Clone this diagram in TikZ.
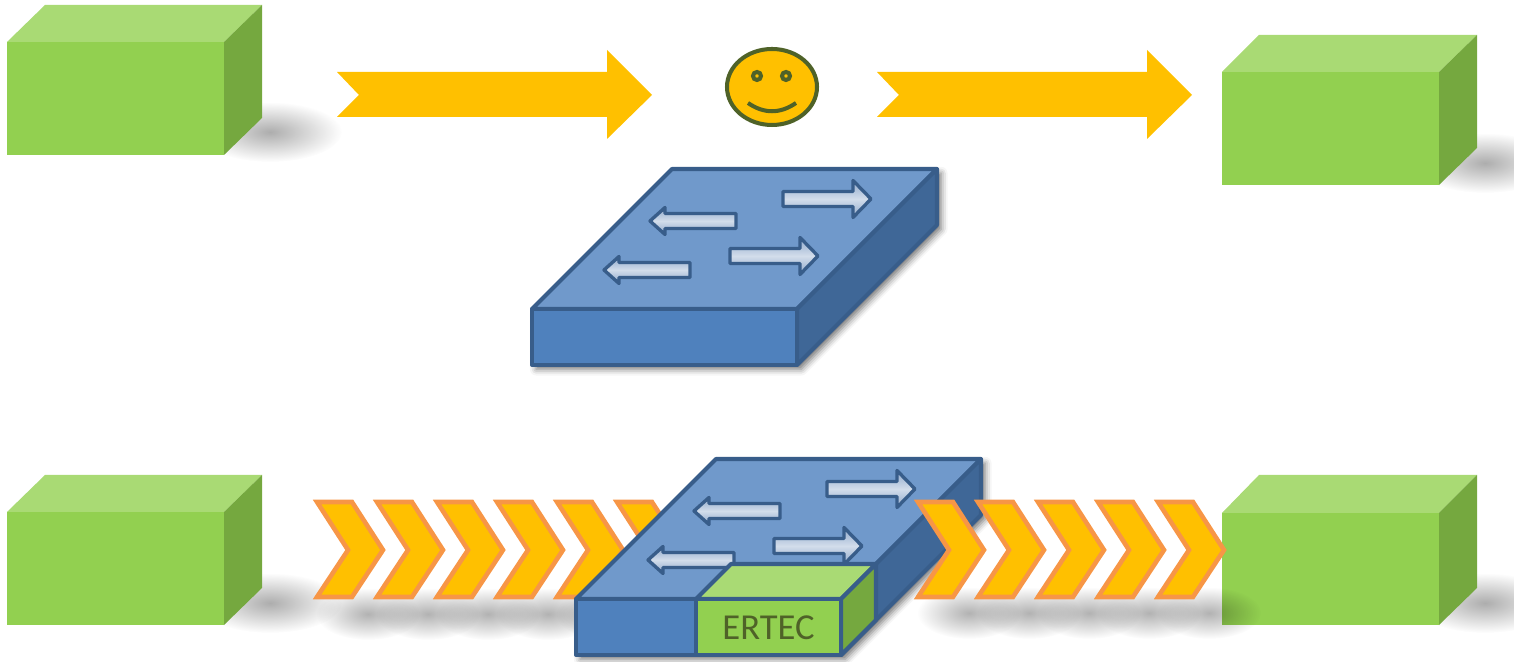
\documentclass[tikz,border=0pt]{standalone}
\usepackage{fontspec}
\setsansfont{Carlito}
\usetikzlibrary{fadings,shadows.blur}

\definecolor{gfrontcol}{HTML}{92D050}
\definecolor{gtopcol}{HTML}{A9DA74}
\definecolor{gsidecol}{HTML}{75A83F}
\definecolor{swfrontcol}{HTML}{4F81BD}
\definecolor{swtopcol}{HTML}{7099CB}
\definecolor{swsidecol}{HTML}{3F6797}
\definecolor{swlinecol}{HTML}{385D8A}
\definecolor{portcol}{HTML}{8FA9CC}
\definecolor{flowcol}{HTML}{FFC000}
\definecolor{chevlinecol}{HTML}{F79646}
\definecolor{facecol}{HTML}{4F6228}

\tikzfading[name=softblob, inner color=transparent!0, outer color=transparent!100]

\tikzset{
  gfront/.style={fill=gfrontcol},
  gtop/.style={fill=gtopcol},
  gside/.style={fill=gsidecol},
  swline/.style={draw=swlinecol, line width=1.15pt, line join=round},
  swfront/.style={swline, fill=swfrontcol},
  swtop/.style={swline, fill=swtopcol},
  swside/.style={swline, fill=swsidecol},
  swshadow/.style={blur shadow={shadow xshift=1.2pt, shadow yshift=-1.2pt, shadow blur radius=1.8pt, shadow opacity=55}},
  portarrow/.style={draw=swlinecol, line width=0.95pt, line join=round,
    top color=portcol, bottom color=portcol, middle color=white!60!portcol},
  flowarrow/.style={fill=flowcol},
  chevron/.style={fill=flowcol, draw=chevlinecol, line width=1.3pt},
  blob/.style={fill=black, fill opacity=#1, path fading=softblob},
  blob/.default=0.32,
  smiley/.style={draw=facecol, line width=1.15pt}
}

\begin{document}
\begin{tikzpicture}[x=0.01cm, y=-0.01cm]
\useasboundingbox (0,0) rectangle (1514,662);

\fill [blob] (270,132) ellipse [x radius=72, y radius=30];
\fill [blob] (1485,163) ellipse [x radius=72, y radius=30];
\fill [blob] (270,603) ellipse [x radius=72, y radius=30];
\fill [blob] (1485,603) ellipse [x radius=72, y radius=30];

\fill [gfront] (7,42) rectangle (224,155);
\fill [gtop] (7,42) -- (45,5) -- (262,5) -- (224,42) -- cycle;
\fill [gside] (224,42) -- (262,5) -- (262,118) -- (224,155) -- cycle;

\fill [gfront] (1222,72) rectangle (1439,185);
\fill [gtop] (1222,72) -- (1259,35) -- (1477,35) -- (1439,72) -- cycle;
\fill [gside] (1439,72) -- (1477,35) -- (1477,148) -- (1439,185) -- cycle;

\fill [gfront] (7,512) rectangle (224,625);
\fill [gtop] (7,512) -- (45,475) -- (262,475) -- (224,512) -- cycle;
\fill [gside] (224,512) -- (262,475) -- (262,588) -- (224,625) -- cycle;

\fill [gfront] (1222,513) rectangle (1439,625);
\fill [gtop] (1222,513) -- (1259,475) -- (1477,475) -- (1439,513) -- cycle;
\fill [gside] (1439,513) -- (1477,475) -- (1477,588) -- (1439,625) -- cycle;

\fill [flowarrow] (337,72) -- (607,72) -- (607,50) -- (652,95) -- (607,139) -- (607,117) -- (337,117) -- (359,95) -- cycle;
\fill [flowarrow, shift={(540,0)}] (337,72) -- (607,72) -- (607,50) -- (652,95) -- (607,139) -- (607,117) -- (337,117) -- (359,95) -- cycle;

\draw [smiley, fill=flowcol] (772,87) ellipse [x radius=45, y radius=38];
\draw [smiley] (757,76) circle [radius=4];
\draw [smiley] (786,76) circle [radius=4];
\draw [smiley] (748,103) .. controls (764,114) and (780,114) .. (796,103);

\path [swshadow] (532,309) -- (672,169) -- (937,169) -- (937,225) -- (797,365) -- (532,365) -- cycle;
\draw [swtop] (532,309) -- (672,169) -- (937,169) -- (797,309) -- cycle;
\draw [swside] (797,309) -- (937,169) -- (937,225) -- (797,365) -- cycle;
\draw [swfront] (532,309) rectangle (797,365);
\draw [portarrow, shift={(650,221)}, xscale=-1] (0,0) -- (-15,-13.5) -- (-15,-7.5) -- (-86,-7.5) -- (-86,7.5) -- (-15,7.5) -- (-15,13.5) -- cycle;
\draw [portarrow, shift={(604,270)}, xscale=-1] (0,0) -- (-15,-13.5) -- (-15,-7.5) -- (-86,-7.5) -- (-86,7.5) -- (-15,7.5) -- (-15,13.5) -- cycle;
\draw [portarrow, shift={(871,199)}] (0,0) -- (-18,-18.5) -- (-18,-7.5) -- (-88,-7.5) -- (-88,7.5) -- (-18,7.5) -- (-18,18.5) -- cycle;
\draw [portarrow, shift={(818,256)}] (0,0) -- (-18,-18.5) -- (-18,-7.5) -- (-88,-7.5) -- (-88,7.5) -- (-18,7.5) -- (-18,18.5) -- cycle;

\fill [blob=0.3] (368,614) ellipse [x radius=52, y radius=26];
\fill [blob=0.3] (428,614) ellipse [x radius=52, y radius=26];
\fill [blob=0.3] (488,614) ellipse [x radius=52, y radius=26];
\fill [blob=0.3] (548,614) ellipse [x radius=52, y radius=26];
\fill [blob=0.3] (608,614) ellipse [x radius=52, y radius=26];
\fill [blob=0.3] (969,613) ellipse [x radius=52, y radius=26];
\fill [blob=0.3] (1029,613) ellipse [x radius=52, y radius=26];
\fill [blob=0.3] (1089,613) ellipse [x radius=52, y radius=26];
\fill [blob=0.3] (1149,613) ellipse [x radius=52, y radius=26];
\fill [blob=0.3] (1209,613) ellipse [x radius=52, y radius=26];

\draw [chevron, shift={(317,0)}] (0,502) -- (35,502) -- (66,550) -- (35,597) -- (0,597) -- (31,550) -- cycle;
\draw [chevron, shift={(377,0)}] (0,502) -- (35,502) -- (66,550) -- (35,597) -- (0,597) -- (31,550) -- cycle;
\draw [chevron, shift={(437,0)}] (0,502) -- (35,502) -- (66,550) -- (35,597) -- (0,597) -- (31,550) -- cycle;
\draw [chevron, shift={(497,0)}] (0,502) -- (35,502) -- (66,550) -- (35,597) -- (0,597) -- (31,550) -- cycle;
\draw [chevron, shift={(557,0)}] (0,502) -- (35,502) -- (66,550) -- (35,597) -- (0,597) -- (31,550) -- cycle;
\draw [chevron, shift={(617,0)}] (0,502) -- (35,502) -- (66,550) -- (35,597) -- (0,597) -- (31,550) -- cycle;

\begin{scope}[shift={(44,290)}]
\path [swshadow] (532,309) -- (672,169) -- (937,169) -- (937,225) -- (797,365) -- (532,365) -- cycle;
\draw [swtop] (532,309) -- (672,169) -- (937,169) -- (797,309) -- cycle;
\draw [swside] (797,309) -- (937,169) -- (937,225) -- (797,365) -- cycle;
\draw [swfront] (532,309) rectangle (797,365);
\draw [portarrow, shift={(650,221)}, xscale=-1] (0,0) -- (-15,-13.5) -- (-15,-7.5) -- (-86,-7.5) -- (-86,7.5) -- (-15,7.5) -- (-15,13.5) -- cycle;
\draw [portarrow, shift={(604,270)}, xscale=-1] (0,0) -- (-15,-13.5) -- (-15,-7.5) -- (-86,-7.5) -- (-86,7.5) -- (-15,7.5) -- (-15,13.5) -- cycle;
\draw [portarrow, shift={(871,199)}] (0,0) -- (-18,-18.5) -- (-18,-7.5) -- (-88,-7.5) -- (-88,7.5) -- (-18,7.5) -- (-18,18.5) -- cycle;
\draw [portarrow, shift={(818,256)}] (0,0) -- (-18,-18.5) -- (-18,-7.5) -- (-88,-7.5) -- (-88,7.5) -- (-18,7.5) -- (-18,18.5) -- cycle;
\draw [swline, fill=gtopcol] (652,309) -- (687,274) -- (832,274) -- (797,309) -- cycle;
\draw [swline, fill=gsidecol] (797,309) -- (832,274) -- (832,330) -- (797,365) -- cycle;
\draw [swline, fill=gfrontcol] (652,309) rectangle (797,365);
\node (ertec) [font=\sffamily\fontsize{10.4}{12}\selectfont, text=facecol] at (724.5,338) {ERTEC};
\end{scope}

\draw [chevron, shift={(918,0)}] (0,502) -- (35,502) -- (66,550) -- (35,597) -- (0,597) -- (31,550) -- cycle;
\draw [chevron, shift={(978,0)}] (0,502) -- (35,502) -- (66,550) -- (35,597) -- (0,597) -- (31,550) -- cycle;
\draw [chevron, shift={(1038,0)}] (0,502) -- (35,502) -- (66,550) -- (35,597) -- (0,597) -- (31,550) -- cycle;
\draw [chevron, shift={(1098,0)}] (0,502) -- (35,502) -- (66,550) -- (35,597) -- (0,597) -- (31,550) -- cycle;
\draw [chevron, shift={(1158,0)}] (0,502) -- (35,502) -- (66,550) -- (35,597) -- (0,597) -- (31,550) -- cycle;
\end{tikzpicture}
\end{document}
